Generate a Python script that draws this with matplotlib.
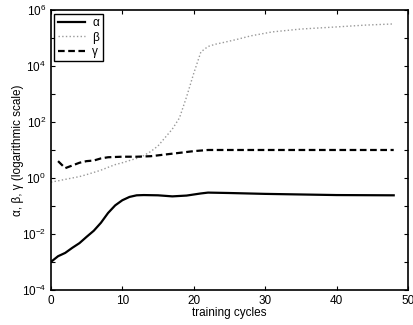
import matplotlib
matplotlib.use("Agg")
import matplotlib.pyplot as plt
import numpy as np

# Data
alpha_t = [0, 1, 2, 3, 4, 5, 6, 7, 8, 9, 10, 11, 12, 13, 15, 17, 19, 21, 22, 25, 30, 40, 48]
alpha = [1.0e-3, 1.6e-3, 2.1e-3, 3.2e-3, 4.7e-3, 7.9e-3, 1.3e-2, 2.5e-2, 5.6e-2, 0.105,
         0.16, 0.21, 0.24, 0.245, 0.24, 0.22, 0.235, 0.28, 0.30, 0.29, 0.27, 0.245, 0.24]

beta_t = [0, 1, 2, 3, 4, 5, 6, 7, 8, 9, 10, 11, 12, 13, 14, 15, 16, 17, 18, 19, 20, 21, 22,
          23, 24, 26, 28, 31, 35, 40, 44, 48]
beta = [0.71, 0.79, 0.89, 1.0, 1.12, 1.32, 1.58, 1.9, 2.4, 3.0, 3.5, 4.2, 5.0, 6.3, 8.9,
        14.0, 28.0, 56.0, 140, 8.0e2, 5.5e3, 3.2e4, 5.0e4, 6.0e4, 6.8e4, 8.9e4, 1.2e5,
        1.66e5, 2.1e5, 2.5e5, 2.9e5, 3.2e5]

gamma_t = [1, 2, 3, 4, 5, 6, 7, 8, 10, 12, 14, 16, 18, 20, 22, 30, 40, 48]
gamma = [4.0, 2.24, 2.8, 3.5, 4.0, 4.2, 5.0, 5.5, 5.75, 5.75, 6.0, 6.9, 7.9, 9.1,
         10, 10, 10, 10]

plt.rcParams["font.family"] = "Liberation Sans"
plt.rcParams["mathtext.fontset"] = "custom"
plt.rcParams["mathtext.rm"] = "Liberation Sans"
plt.rcParams["mathtext.it"] = "Liberation Sans:italic"

fig = plt.figure(figsize=(4.14, 3.25), dpi=100)
ax = fig.add_axes([0.123, 0.108, 0.8625, 0.861])

ax.plot(alpha_t, alpha, color="black", lw=1.6, label="α")
ax.plot(beta_t, beta, color="#999999", lw=1.0, linestyle=":", label="β")
ax.plot(gamma_t, gamma, color="black", lw=1.6, linestyle=(0, (3, 1.6)), label="γ")

ax.set_yscale("log")
ax.set_xlim(0, 50)
ax.set_ylim(1e-4, 1e6)
ax.set_xticks([0, 10, 20, 30, 40, 50])
decades = 10.0 ** np.arange(-4, 7)
ax.set_yticks(decades)
ax.set_yticklabels([r"$\mathdefault{10^{%d}}$" % d if d % 2 == 0 else "" for d in range(-4, 7)])
ax.minorticks_off()
ax.tick_params(direction="in", top=True, right=True, length=3, width=0.8, labelsize=8.5)

for spine in ax.spines.values():
    spine.set_linewidth(1.2)

ax.set_xlabel("training cycles", fontsize=8.5, labelpad=0)
ax.set_ylabel("α, β, γ (logarithmic scale)", fontsize=8.5, labelpad=-2)

leg = ax.legend(loc="upper left", fontsize=8.5, fancybox=False, edgecolor="black",
                framealpha=1, handlelength=2.3, borderaxespad=0.3, labelspacing=0.2,
                handletextpad=0.6, borderpad=0.3)
leg.get_frame().set_linewidth(1.0)

fig.savefig("out.png", dpi=100)
